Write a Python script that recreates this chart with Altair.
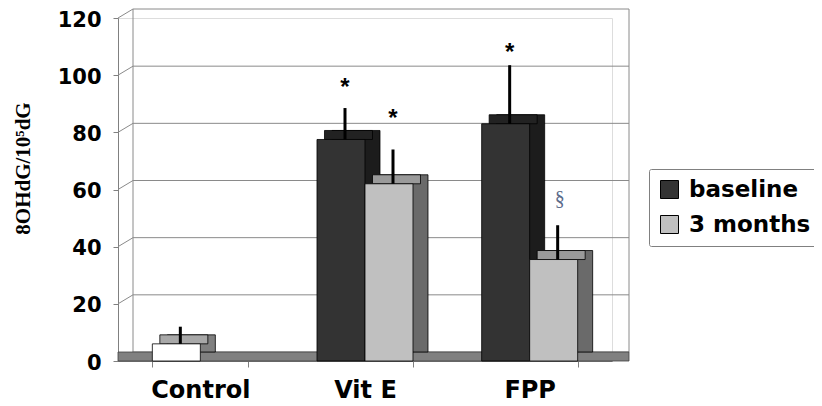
import altair as alt
import pandas as pd

# ---- data ----
groups = ["Control", "Vit E", "Vit E", "FPP", "FPP"]
series = ["control", "baseline", "3 months", "baseline", "3 months"]
slot = [0, 0, 1, 0, 1]
means = [6, 77.5, 62, 83, 35.5]
err_top = [12, 88.5, 74, 103.5, 47.5]
marks_txt = ["", "*", "*", "*", "§"]
marks_y = [12, 97, 86, 109, 56]
categories = ["Control", "Vit E", "FPP"]
legend_items = ["baseline", "3 months"]
ticks = [0, 20, 40, 60, 80, 100, 120]

df = pd.DataFrame({
    "group": groups, "series": series, "slot": slot,
    "mean": means, "err": err_top, "txt": marks_txt, "ty": marks_y,
})
grid_df = pd.DataFrame({"v": ticks})

W, H = 494, 343
DX, DY = 15, -9          # 3-D depth offset in px
SANS = "DejaVu Sans"
domain_series = ["baseline", "3 months", "control"]

xenc = alt.X("group:N", sort=categories, title=None,
             scale=alt.Scale(domain=categories, paddingInner=0.417, paddingOuter=0.2085),
             axis=alt.Axis(labelAngle=0, labelFont=SANS, labelFontWeight="bold",
                           labelFontSize=24, labelColor="black", labelPadding=11,
                           tickBand="extent", tickSize=6, tickColor="#808080",
                           domainColor="#808080", grid=False))


def xoff(shift):
    return alt.XOffset("slot:O", scale=alt.Scale(domain=[0, 1], range=[shift, 96 + shift],
                                                  paddingInner=0, paddingOuter=0))


def xoff_pt(shift):
    return alt.XOffset("slot:O", scale=alt.Scale(type="point", domain=[0, 1],
                                                  range=[24 + shift, 72 + shift], padding=0))


yscale = alt.Scale(domain=[0, 120])
base = alt.Chart(df)

# back wall gridlines and edges
grid = alt.Chart(grid_df).mark_rule(color="#8a8a8a", strokeWidth=1, yOffset=DY).encode(
    x=alt.value(DX), x2=alt.value(W + DX + 2), y=alt.Y("v:Q", scale=yscale))
conn = alt.Chart(grid_df).mark_rule(color="#8a8a8a", strokeWidth=1, y2Offset=DY).encode(
    x=alt.value(0), x2=alt.value(DX), y=alt.Y("v:Q", scale=yscale), y2="v:Q")
walls = alt.Chart(pd.DataFrame({"lo": [0], "hi": [120]})).mark_rule(
    color="#8a8a8a", strokeWidth=1, yOffset=DY, y2Offset=DY).encode(
    x=alt.value(DX), y=alt.Y("lo:Q", scale=yscale), y2="hi:Q")
walls_r = alt.Chart(pd.DataFrame({"lo": [0], "hi": [120]})).mark_rule(
    color="#8a8a8a", strokeWidth=1, yOffset=DY, y2Offset=DY).encode(
    x=alt.value(W + DX + 2), y=alt.Y("lo:Q", scale=yscale), y2="hi:Q")

floor = alt.Chart(pd.DataFrame({"a": [0]})).mark_rect(
    color="#808080", stroke="#404040", strokeWidth=0.8, y2Offset=DY
).encode(
    x=alt.value(0), x2=alt.value(W + DX + 2),
    y=alt.Y("a:Q", scale=yscale), y2="a:Q",
)

side = base.mark_bar(yOffset=DY, y2Offset=DY, stroke="black", strokeWidth=0.8).encode(
    x=xenc, xOffset=xoff(DX),
    y=alt.Y("mean:Q", scale=yscale), y2=alt.datum(0),
    color=alt.Color("series:N", legend=None,
                    scale=alt.Scale(domain=domain_series,
                                    range=["#1c1c1c", "#6a6a6a", "#808080"])),
)

top = base.mark_bar(yOffset=DY, stroke="black", strokeWidth=0.8).encode(
    x=xenc, xOffset=xoff(DX / 2),
    y=alt.Y("mean:Q", scale=yscale), y2="mean:Q",
    color=alt.Color("series:N", legend=None,
                    scale=alt.Scale(domain=domain_series,
                                    range=["#222222", "#9a9a9a", "#a8a8a8"])),
)

front = base.mark_bar(stroke="black", strokeWidth=0.8).encode(
    x=xenc, xOffset=xoff(0),
    y=alt.Y("mean:Q", scale=yscale,
            title="8OHdG/10⁵dG",
            axis=alt.Axis(values=ticks, labelFont=SANS,
                          labelFontWeight="bold", labelFontSize=21, labelColor="black",
                          labelPadding=12, labelOffset=2, tickSize=5, tickColor="#808080",
                          domainColor="#808080", grid=False,
                          titleFont="Liberation Serif", titleFontWeight="bold",
                          titleFontSize=21, titleColor="black", titleAngle=-90,
                          titleX=-95, titleY=150, titleAlign="center",
                          titleBaseline="middle")),
    color=alt.Color("series:N",
                    scale=alt.Scale(domain=domain_series,
                                    range=["#333333", "#c0c0c0", "#ffffff"]),
                    legend=alt.Legend(values=legend_items, title=None, orient="none",
                                      legendX=531, legendY=151, symbolType="square",
                                      symbolSize=324, symbolStrokeColor="black",
                                      symbolStrokeWidth=1, labelFont=SANS,
                                      labelFontWeight="bold", labelFontSize=23,
                                      labelColor="black", labelOffset=8,
                                      rowPadding=11, padding=9, strokeColor="#808080",
                                      fillColor="white", cornerRadius=2)),
)

errs = base.mark_rule(color="black", strokeWidth=3).encode(
    x=xenc, xOffset=xoff(4),
    y=alt.Y("mean:Q", scale=yscale), y2="err:Q",
)

stars = base.transform_filter(alt.datum.txt == "*").mark_text(
    font="Liberation Sans", fontSize=24, fontWeight="bold", color="black",
    baseline="middle", dy=4
).encode(
    x=xenc, xOffset=xoff_pt(4), y=alt.Y("ty:Q", scale=yscale), text="txt:N",
)

sect = base.transform_filter(alt.datum.txt == "§").mark_text(
    font="Liberation Serif", fontSize=20, color="#5a6a8a", baseline="middle", dy=-2
).encode(
    x=xenc, xOffset=xoff_pt(6), y=alt.Y("ty:Q", scale=yscale), text="txt:N",
)

chart = alt.layer(grid, conn, walls, walls_r, floor, side, top, front, errs, stars, sect
).resolve_scale(
    color="independent", xOffset="independent"
).properties(
    width=W, height=H,
    autosize=alt.AutoSizeParams(type="none"),
    padding={"left": 110, "top": 10, "right": 202, "bottom": 45},
).configure_view(stroke=None).configure(background="white")

chart.save("out.html", embed_options={"renderer": "svg", "actions": False})
